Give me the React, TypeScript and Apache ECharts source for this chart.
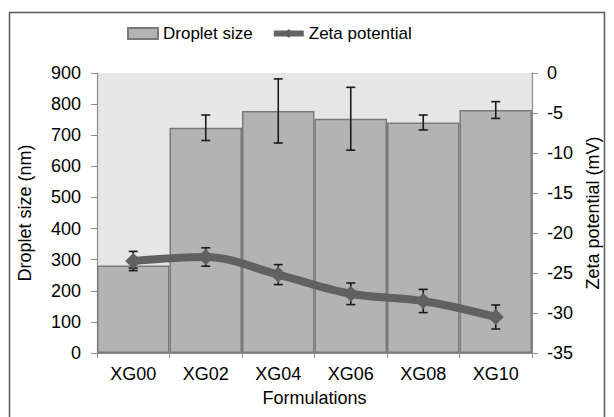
import React, { useEffect, useRef } from "react";
import * as echarts from "echarts";

const categories = ["XG00", "XG02", "XG04", "XG06", "XG08", "XG10"];
const dropletSize = [281, 724, 778, 753, 741, 781];
const dropletErr = [8, 41, 103, 101, 24, 27];
const zetaPotential = [-23.5, -23.0, -25.2, -27.6, -28.5, -30.5];
const zetaErr = [1.2, 1.15, 1.25, 1.35, 1.45, 1.5];

const FONT = "'Liberation Sans', Arial, sans-serif";

function errorRender(params: any, api: any) {
  const x = api.value(0);
  const lo = api.coord([x, api.value(1)]);
  const hi = api.coord([x, api.value(2)]);
  const half = 4.5;
  const style = { stroke: "#1a1a1a", lineWidth: 1.6 };
  return {
    type: "group",
    children: [
      { type: "line", shape: { x1: lo[0], y1: lo[1], x2: hi[0], y2: hi[1] }, style },
      { type: "line", shape: { x1: lo[0] - half, y1: lo[1], x2: lo[0] + half, y2: lo[1] }, style },
      { type: "line", shape: { x1: hi[0] - half, y1: hi[1], x2: hi[0] + half, y2: hi[1] }, style },
    ],
  };
}

export default function App() {
  const ref = useRef<HTMLDivElement>(null);
  useEffect(() => {
    if (!ref.current) return;
    const chart = echarts.init(ref.current, null, { renderer: "svg" });
    const axisLine = { show: true, lineStyle: { color: "#8c8c8c", width: 1.2 } };
    chart.setOption({
      animation: false,
      backgroundColor: "#ffffff",
      textStyle: { fontFamily: FONT },
      graphic: [
        {
          type: "rect",
          shape: { x: 9.5, y: 12.5, width: 595, height: 420 },
          style: { fill: "none", stroke: "#5a5a5a", lineWidth: 1.5 },
          silent: true,
          z: 100,
        },
      ],
      legend: {
        top: 20,
        left: 122,
        itemGap: 18,
        itemWidth: 30,
        itemHeight: 11,
        textStyle: { fontFamily: FONT, fontSize: 17, color: "#000" },
        data: [
          { name: "Droplet size", icon: "rect" },
          { name: "Zeta potential", lineStyle: { width: 6, color: "#636363" } },
        ],
      },
      grid: {
        left: 97,
        right: 82,
        top: 73,
        bottom: 64,
        show: true,
        backgroundColor: "#e6e6e6",
        borderWidth: 0,
      },
      xAxis: {
        type: "category",
        data: categories,
        name: "Formulations",
        nameLocation: "middle",
        nameGap: 36,
        nameTextStyle: { fontFamily: FONT, fontSize: 18, color: "#000" },
        axisLine,
        axisTick: { show: true, alignWithLabel: false, length: 5, lineStyle: { color: "#8c8c8c" } },
        axisLabel: { fontFamily: FONT, fontSize: 18, color: "#000", margin: 12 },
        splitLine: { show: false },
      },
      yAxis: [
        {
          type: "value",
          min: 0,
          max: 900,
          interval: 100,
          name: "Droplet size (nm)",
          nameLocation: "middle",
          nameGap: 63,
          nameTextStyle: { fontFamily: FONT, fontSize: 18, color: "#000" },
          axisLine,
          axisTick: { show: true, length: 6, lineStyle: { color: "#8c8c8c" } },
          axisLabel: { fontFamily: FONT, fontSize: 18, color: "#000", margin: 16 },
          splitLine: { show: false },
        },
        {
          type: "value",
          min: -35,
          max: 0,
          interval: 5,
          position: "right",
          name: "Zeta potential (mV)",
          nameLocation: "middle",
          nameGap: 46,
          nameTextStyle: { fontFamily: FONT, fontSize: 18, color: "#000" },
          axisLine,
          axisTick: { show: true, length: 6, lineStyle: { color: "#8c8c8c" } },
          axisLabel: { fontFamily: FONT, fontSize: 18, color: "#000", margin: 15 },
          splitLine: { show: false },
        },
      ],
      series: [
        {
          name: "Droplet size",
          type: "bar",
          yAxisIndex: 0,
          data: dropletSize,
          barCategoryGap: "0%",
          itemStyle: { color: "#b3b3b3", borderColor: "#7a7a7a", borderWidth: 1.5 },
          z: 2,
        },
        {
          name: "Droplet size error",
          type: "custom",
          yAxisIndex: 0,
          renderItem: errorRender,
          encode: { x: 0, y: [1, 2] },
          data: dropletSize.map((v, i) => [i, v - dropletErr[i], v + dropletErr[i]]),
          z: 3,
        },
        {
          name: "Zeta potential error",
          type: "custom",
          yAxisIndex: 1,
          renderItem: errorRender,
          encode: { x: 0, y: [1, 2] },
          data: zetaPotential.map((v, i) => [i, v - zetaErr[i], v + zetaErr[i]]),
          z: 4,
        },
        {
          name: "Zeta potential",
          type: "line",
          yAxisIndex: 1,
          data: zetaPotential,
          smooth: 0.35,
          symbol: "diamond",
          symbolSize: 16,
          lineStyle: { color: "#616161", width: 8 },
          itemStyle: { color: "#616161" },
          z: 5,
        },
      ],
    });
    return () => chart.dispose();
  }, []);
  return (
    <div
      ref={ref}
      style={{ position: "fixed", left: 0, top: 0, width: 614, height: 417 }}
    />
  );
}
